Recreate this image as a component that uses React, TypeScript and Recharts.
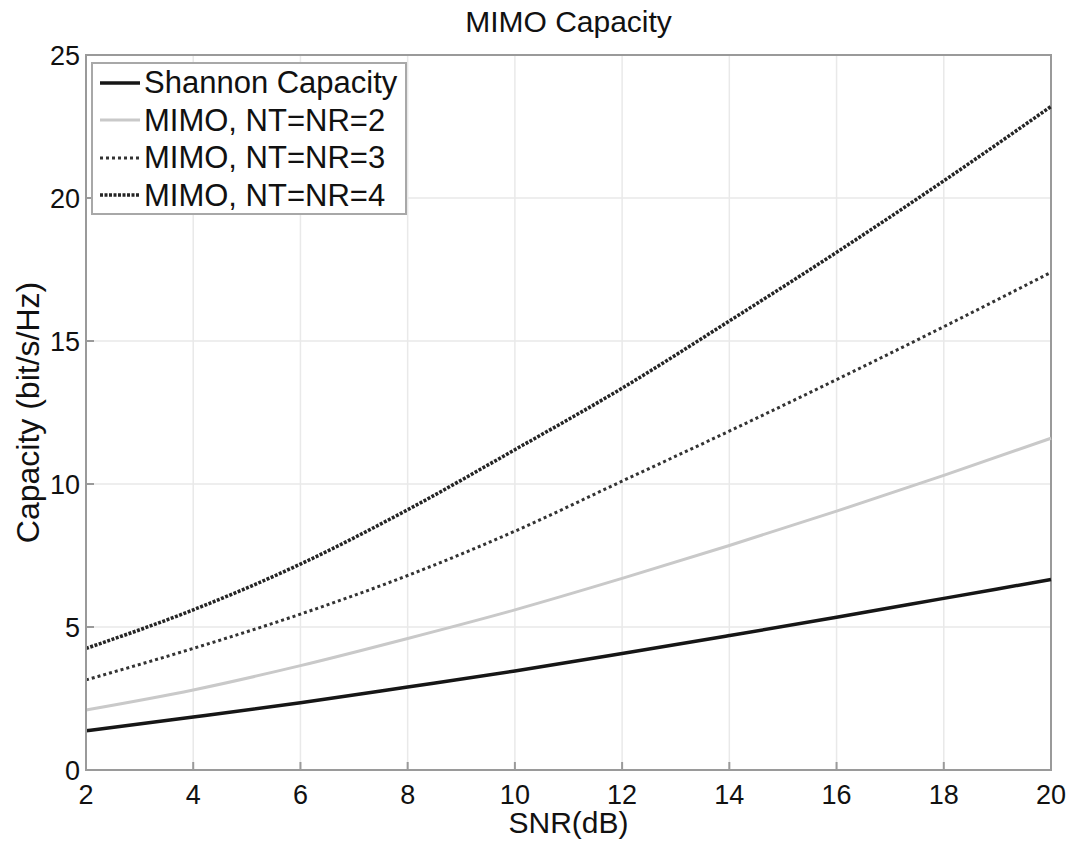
import React from 'react';
import { LineChart, Line, XAxis, YAxis, CartesianGrid, Legend, ReferenceArea } from 'recharts';

const snrDb = [2, 4, 6, 8, 10, 12, 14, 16, 18, 20];
const shannon = [1.37, 1.85, 2.35, 2.9, 3.46, 4.07, 4.7, 5.34, 6.0, 6.66];
const mimo2 = [2.1, 2.8, 3.65, 4.6, 5.6, 6.7, 7.85, 9.05, 10.3, 11.6];
const mimo3 = [3.15, 4.25, 5.45, 6.8, 8.35, 10.1, 11.85, 13.65, 15.5, 17.4];
const mimo4 = [4.25, 5.6, 7.2, 9.1, 11.2, 13.35, 15.7, 18.1, 20.6, 23.2];
const xTicks = [2, 4, 6, 8, 10, 12, 14, 16, 18, 20];
const yTicks = [0, 5, 10, 15, 20, 25];

const seriesNames = ['Shannon Capacity', 'MIMO, NT=NR=2', 'MIMO, NT=NR=3', 'MIMO, NT=NR=4'];

const data = snrDb.map((x, i) => ({
  snr: x,
  s: shannon[i],
  m2: mimo2[i],
  m3: mimo3[i],
  m4: mimo4[i],
}));

const FONT = '"Liberation Sans", Arial, Helvetica, sans-serif';

const styles: Record<string, { stroke: string; width: number; dash?: string }> = {
  s: { stroke: '#161616', width: 3.5 },
  m2: { stroke: '#c9c9c9', width: 3 },
  m3: { stroke: '#333333', width: 3, dash: '3 3' },
  m4: { stroke: '#252525', width: 3.5, dash: '3 1.5' },
};

const keys = ['s', 'm2', 'm3', 'm4'];

const LegendBox = () => (
  <div
    style={{
      width: 312,
      height: 149,
      border: '2px solid #a8a8a8',
      background: '#fff',
      boxSizing: 'content-box',
      fontFamily: FONT,
      textAlign: 'left',
    }}
  >
    {keys.map((k, i) => (
      <div key={k} style={{ display: 'flex', alignItems: 'center', height: 37.5 }}>
        <svg width={48} height={10} style={{ marginLeft: 6, flex: 'none' }}>
          <line x1={1} y1={5} x2={41} y2={5} stroke={styles[k].stroke} strokeWidth={styles[k].width} strokeDasharray={styles[k].dash} />
        </svg>
        <span style={{ fontSize: 31, color: '#111', lineHeight: '31px', whiteSpace: 'nowrap', marginLeft: -3 }}>{seriesNames[i]}</span>
      </div>
    ))}
  </div>
);

export default function App() {
  return (
    <div style={{ position: 'absolute', left: 0, top: 0, width: 1073, height: 842, background: '#fff', fontFamily: FONT }}>
      <div
        style={{
          position: 'absolute',
          left: 86,
          width: 965,
          top: 5,
          textAlign: 'center',
          fontSize: 30,
          color: '#111',
        }}
      >
        MIMO Capacity
      </div>
      <LineChart width={1073} height={842} data={data} margin={{ top: 55, right: 22, bottom: 0, left: 0 }}>
        <CartesianGrid stroke="#e9e9e9" strokeWidth={1.5} />
        <ReferenceArea x1={2} x2={20} y1={0} y2={25} fill="none" stroke="#9a9a9a" strokeWidth={2} ifOverflow="visible" />
        <XAxis
          dataKey="snr"
          type="number"
          domain={[2, 20]}
          ticks={xTicks}
          height={72}
          tickSize={-8}
          tickMargin={23}
          stroke="#9a9a9a"
          strokeWidth={2}
          tick={{ fontSize: 27, fill: '#111', fontFamily: FONT }}
          label={{ value: 'SNR(dB)', position: 'insideBottom', offset: 9, fontSize: 30, fill: '#111', fontFamily: FONT }}
        />
        <XAxis
          xAxisId="top"
          dataKey="snr"
          type="number"
          orientation="top"
          domain={[2, 20]}
          ticks={xTicks}
          height={0}
          tickSize={-8}
          tickFormatter={() => ''}
          stroke="#9a9a9a"
          strokeWidth={2}
        />
        <YAxis
          type="number"
          domain={[0, 25]}
          ticks={yTicks}
          width={86}
          tickSize={-8}
          tickMargin={14}
          stroke="#9a9a9a"
          strokeWidth={2}
          tick={{ fontSize: 27, fill: '#111', fontFamily: FONT }}
          label={{ value: 'Capacity (bit/s/Hz)', angle: -90, position: 'insideLeft', offset: 28, fontSize: 32, fill: '#111', fontFamily: FONT, style: { textAnchor: 'middle' } }}
        />
        <YAxis
          yAxisId="right"
          orientation="right"
          type="number"
          domain={[0, 25]}
          ticks={yTicks}
          width={0}
          tickSize={-8}
          tickFormatter={() => ''}
          stroke="#9a9a9a"
          strokeWidth={2}
        />
        <Legend
          verticalAlign="middle"
          align="center"
          layout="vertical"
          content={() => <LegendBox />}
          wrapperStyle={{ position: 'absolute', left: 91, top: 62, width: 316, height: 153 }}
        />
        {keys.map((k, i) => (
          <Line
            key={k}
            dataKey={k}
            name={seriesNames[i]}
            type="monotone"
            stroke={styles[k].stroke}
            strokeWidth={styles[k].width}
            strokeDasharray={styles[k].dash}
            dot={false}
            activeDot={false}
            isAnimationActive={false}
          />
        ))}
      </LineChart>
    </div>
  );
}
